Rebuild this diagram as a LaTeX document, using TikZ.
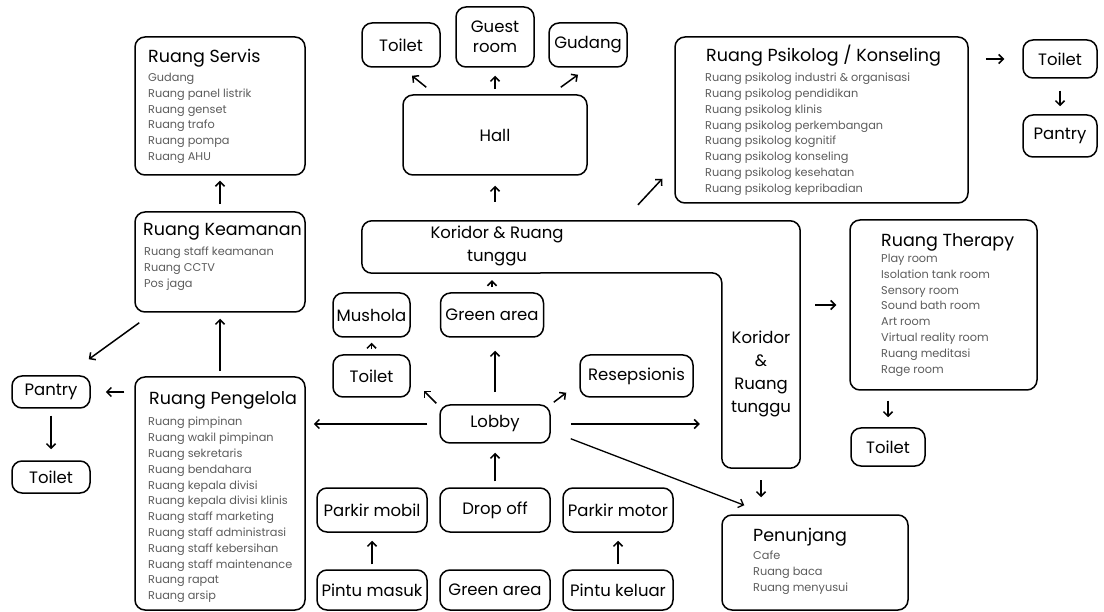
\documentclass[tikz,border=0pt]{standalone}
\usepackage{fontspec}
\setmainfont{Poppins}
\usetikzlibrary{arrows.meta}
\definecolor{itemgray}{HTML}{5C5C5C}
\tikzset{
  room/.style={draw, line width=1.5pt, rounded corners=10pt, inner sep=0pt, align=center,
    font=\fontsize{16.5}{20}\selectfont},
  bigroom/.style={draw, line width=1.5pt, rounded corners=10pt, inner sep=0pt},
  roomtitle/.style={anchor=west, inner sep=0pt, font=\fontsize{17.5}{20}\selectfont},
  roomlist/.style={anchor=north west, inner sep=0pt, align=left, text=itemgray,
    font=\fontsize{11.3}{15.8}\selectfont},
  arr/.style={line width=1.5pt, -{Straight Barb[length=4.5pt,width=9pt]}},
}

\begin{document}
\begin{tikzpicture}[x=1pt,y=-1pt]
\useasboundingbox (0,0) rectangle (1104,612);

\node[bigroom, minimum width=170pt, minimum height=138pt] (servis) at (220,106) {};
\node[roomtitle] (servisT) at (148,58) {Ruang Servis};
\node[roomlist] (servisL) at (148,73) {Gudang\\Ruang panel listrik\\Ruang genset\\Ruang trafo\\Ruang pompa\\Ruang AHU};

\node[bigroom, minimum width=170pt, minimum height=100pt] (keam) at (220,262) {};
\node[roomtitle] (keamT) at (143,232) {Ruang Keamanan};
\node[roomlist] (keamL) at (144,247) {Ruang staff keamanan\\Ruang CCTV\\Pos jaga};

\node[bigroom, minimum width=170pt, minimum height=233pt] (pengelola) at (220,493.5) {};
\node[roomtitle] (pengelolaT) at (149,400) {Ruang Pengelola};
\node[roomlist] (pengelolaL) at (148,417) {Ruang pimpinan\\Ruang wakil pimpinan\\Ruang sekretaris\\Ruang bendahara\\Ruang kepala divisi\\Ruang kepala divisi klinis\\Ruang staff marketing\\Ruang staff administrasi\\Ruang staff kebersihan\\Ruang staff maintenance\\Ruang rapat\\Ruang arsip};

\node[room, minimum width=78pt, minimum height=32pt] (pantryL) at (51,392) {Pantry};
\node[room, minimum width=78pt, minimum height=32pt] (toiletL) at (51,477) {Toilet};

\node[room, minimum width=184pt, minimum height=80pt] (hall) at (495,135) {Hall};
\node[room, minimum width=78pt, minimum height=44pt] (toiletT) at (401,45) {Toilet};
\node[room, minimum width=78pt, minimum height=60pt] (guest) at (495,37) {Guest\\room};
\node[room, minimum width=78pt, minimum height=44pt] (gudang) at (588,45) {Gudang};

\node[minimum width=438pt, minimum height=52pt, inner sep=0pt] (korH) at (581,247) {};
\node[minimum width=78pt, minimum height=195pt, inner sep=0pt] (korV) at (761,370.5) {};
\draw[line width=1.5pt, rounded corners=10pt] (korH.north west) -- (korH.north east) -- (korV.south east)
  -- (korV.south west) -- (korV.north west) -- (korH.south west) -- cycle;
\node[align=center, font=\fontsize{16.5}{23}\selectfont] (korHtxt) at (497,246) {Koridor \& Ruang\\tunggu};
\node[align=center, font=\fontsize{16.5}{23}\selectfont] (korVtxt) at (761,374) {Koridor\\\&\\Ruang\\tunggu};

\node[bigroom, minimum width=293pt, minimum height=166pt] (psik) at (821.5,120) {};
\node[roomtitle] (psikT) at (706,56) {Ruang Psikolog / Konseling};
\node[roomlist] (psikL) at (705,73) {Ruang psikolog industri \& organisasi\\Ruang psikolog pendidikan\\Ruang psikolog klinis\\Ruang psikolog perkembangan\\Ruang psikolog kognitif\\Ruang psikolog konseling\\Ruang psikolog kesehatan\\Ruang psikolog kepribadian};

\node[room, minimum width=74pt, minimum height=38pt] (toiletR) at (1060,59) {Toilet};
\node[room, minimum width=74pt, minimum height=42pt] (pantryR) at (1060,136) {Pantry};

\node[bigroom, minimum width=187pt, minimum height=170pt] (therapy) at (943.5,305) {};
\node[roomtitle] (therapyT) at (881,242) {Ruang Therapy};
\node[roomlist] (therapyL) at (881,254) {Play room\\Isolation tank room\\Sensory room\\Sound bath room\\Art room\\Virtual reality room\\Ruang meditasi\\Rage room};
\node[room, minimum width=74pt, minimum height=38pt] (toiletTh) at (888,447) {Toilet};

\node[bigroom, minimum width=186pt, minimum height=95pt] (penunjang) at (815,562.5) {};
\node[roomtitle] (penunjangT) at (753,537) {Penunjang};
\node[roomlist] (penunjangL) at (753,551) {Cafe\\Ruang baca\\Ruang menyusui};

\node[room, minimum width=110pt, minimum height=38pt] (lobby) at (495,424) {Lobby};
\node[room, minimum width=103pt, minimum height=44pt] (green1) at (492,315) {Green area};
\node[room, minimum width=77pt, minimum height=44pt] (mushola) at (371.5,315) {Mushola};
\node[room, minimum width=77pt, minimum height=42pt] (toiletM) at (371.5,376) {Toilet};
\node[room, minimum width=113pt, minimum height=42pt] (resep) at (636.5,376) {Resepsionis};

\node[room, minimum width=110pt, minimum height=44pt] (parkirM) at (372,510) {Parkir mobil};
\node[room, minimum width=110pt, minimum height=44pt] (dropoff) at (495,510) {Drop off};
\node[room, minimum width=110pt, minimum height=44pt] (parkirMt) at (618,510) {Parkir motor};
\node[room, minimum width=110pt, minimum height=40pt] (pintuM) at (372,590) {Pintu masuk};
\node[room, minimum width=110pt, minimum height=40pt] (green2) at (495,590) {Green area};
\node[room, minimum width=110pt, minimum height=40pt] (pintuK) at (618,590) {Pintu keluar};

\draw[arr, shorten <=7pt, shorten >=5pt] (keam.north) -- (servis.south);
\draw[arr, shorten <=5pt, shorten >=6pt] (pengelola.north) -- (keam.south);
\draw[arr] ([xshift=5pt,yshift=-10pt]keam.south west) -- ([xshift=-2pt,yshift=16pt]pantryL.north east);
\draw[arr, shorten <=10pt, shorten >=15pt] (pantryL.east -| pengelola.west) -- (pantryL.east);
\draw[arr, shorten <=7pt, shorten >=11pt] (pantryL.south) -- (toiletL.north);

\draw[arr] ([xshift=24pt,yshift=7pt]hall.north west) -- ([xshift=11pt,yshift=-8pt]toiletT.south);
\draw[arr, shorten <=5pt, shorten >=8pt] (hall.north) -- (guest.south);
\draw[arr] ([xshift=-27pt,yshift=7pt]hall.north east) -- ([xshift=-10pt,yshift=-7pt]gudang.south);
\draw[arr, shorten <=19pt, shorten >=10pt] (hall.south |- korH.north) -- (hall.south);
\draw[arr] ([xshift=57pt,yshift=16pt]korH.north) -- ([xshift=-12pt,yshift=25pt]psik.south west);

\draw[arr, shorten <=5pt, shorten >=7pt] (green1.north) -- (green1.north |- korH.south);
\draw[arr, shorten <=5pt, shorten >=5pt] (toiletM.north) -- (mushola.south);
\draw[arr] ([xshift=-3pt,yshift=1pt]lobby.north west) -- ([xshift=13pt,yshift=7pt]toiletM.south east);
\draw[arr] ([xshift=3pt,yshift=2pt]lobby.north east) -- ([xshift=-13pt,yshift=5pt]resep.south west);
\draw[arr, shorten <=12pt, shorten >=13pt] (lobby.north) -- (lobby.north |- green1.south);
\draw[arr, shorten <=12pt, shorten >=8pt] (lobby.west) -- (lobby.west -| pengelola.east);
\draw[arr, shorten <=20pt, shorten >=22pt] (lobby.east) -- (lobby.east -| korV.west);
\draw[arr, line width=1.3pt] ([xshift=20pt,yshift=5pt]lobby.south east) -- ([xshift=23pt,yshift=9pt]penunjang.north west);

\draw[arr, shorten <=12pt, shorten >=17pt] (korV.south) -- (korV.south |- penunjang.north);
\draw[arr, shorten <=15pt, shorten >=13pt] (korV.east |- therapy.west) -- (therapy.west);
\draw[arr, shorten <=10pt, shorten >=10pt] (toiletTh.north |- therapy.south) -- (toiletTh.north);
\draw[arr, shorten <=17pt, shorten >=18pt] (psik.east |- toiletR.west) -- (toiletR.west);
\draw[arr, shorten <=12pt, shorten >=8pt] (toiletR.south) -- (pantryR.north);

\draw[arr, shorten <=6pt, shorten >=9pt] (dropoff.north) -- (lobby.south);
\draw[arr, shorten <=5pt, shorten >=8pt] (pintuM.north) -- (parkirM.south);
\draw[arr, shorten <=5pt, shorten >=8pt] (pintuK.north) -- (parkirMt.south);
\end{tikzpicture}
\end{document}
